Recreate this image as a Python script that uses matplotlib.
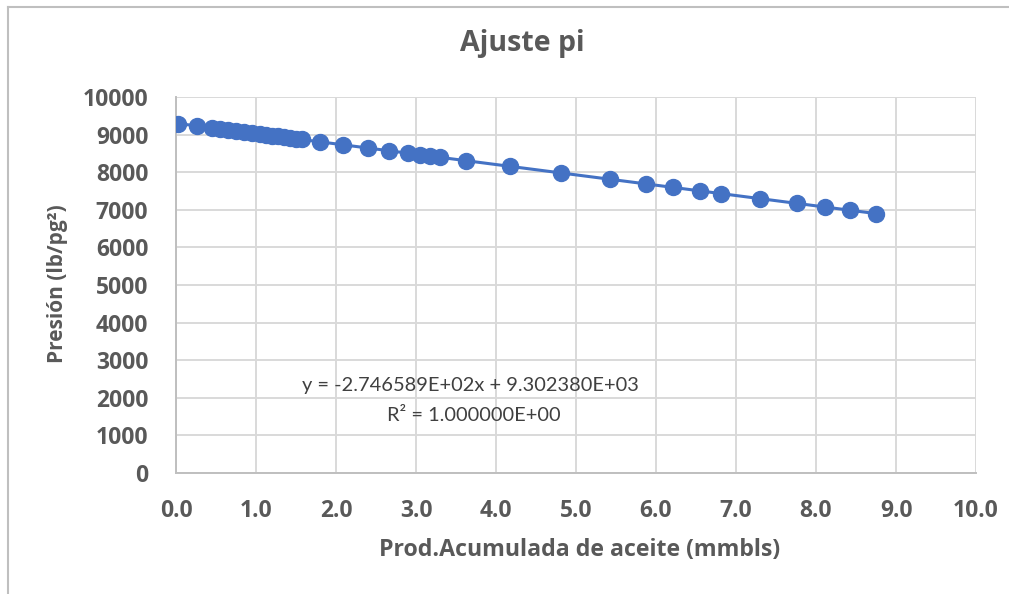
import numpy as np
import matplotlib.pyplot as plt
from matplotlib.lines import Line2D

# Datos: producción acumulada (mmbls) vs presión (lb/pg2)
prod_acum = [0.03, 0.26, 0.45, 0.55, 0.65, 0.75, 0.85, 0.95, 1.05, 1.12,
             1.20, 1.28, 1.35, 1.42, 1.50, 1.57, 1.80, 2.09, 2.40, 2.66,
             2.90, 3.05, 3.17, 3.30, 3.63, 4.17, 4.81, 5.42, 5.88, 6.21,
             6.55, 6.81, 7.30, 7.76, 8.11, 8.42, 8.75]
presion = [9294, 9231, 9179, 9151, 9124, 9096, 9069, 9041, 9014, 8995,
           8973, 8951, 8932, 8912, 8890, 8871, 8808, 8728, 8643, 8572,
           8506, 8465, 8432, 8396, 8305, 8157, 7981, 7814, 7687, 7597,
           7503, 7432, 7297, 7171, 7075, 6990, 6899]

eq_text = "y = -2.746589E+02x + 9.302380E+03"
r2_text = "R² = 1.000000E+00"

x_ticks = np.arange(0, 10.01, 1.0)
y_ticks = np.arange(0, 10001, 1000)

azul = "#4472C4"
gris_txt = "#595959"
gris_grid = "#d9d9d9"
negrita = ["Open Sans", "DejaVu Sans"]

plt.rcParams["font.family"] = ["Lato", "DejaVu Sans"]

fig = plt.figure(figsize=(10.09, 5.94), dpi=100)
ax = fig.add_axes([0.1744, 0.2037, 0.7929, 0.6330])

# línea de tendencia (ajuste lineal) + puntos
m, b = np.polyfit(prod_acum, presion, 1)
xs = np.array([prod_acum[0], prod_acum[-1]])
ax.plot(xs, m * xs + b, color=azul, linewidth=2.2, zorder=3)
ax.plot(prod_acum, presion, "o", color=azul, markersize=11.5, zorder=4)

ax.set_xlim(0, 10)
ax.set_ylim(0, 10000)
ax.set_xticks(x_ticks)
ax.set_yticks(y_ticks)
ax.set_xticklabels([f"{v:.1f}" for v in x_ticks])
ax.set_yticklabels([f"{int(v)}" for v in y_ticks])
ax.tick_params(length=0, colors=gris_txt)
ax.tick_params(axis="x", pad=19)
ax.tick_params(axis="y", pad=20)
for lbl in ax.get_xticklabels() + ax.get_yticklabels():
    lbl.set_fontweight("bold")
    lbl.set_family(negrita)
    lbl.set_fontsize(16.5)

ax.grid(True, color=gris_grid, linewidth=1.4)
ax.set_axisbelow(True)
for s in ["top", "right"]:
    ax.spines[s].set_visible(False)
ax.spines["left"].set_color("#bfbfbf")
ax.spines["bottom"].set_color("#bfbfbf")
ax.spines["left"].set_linewidth(1.4)
ax.spines["bottom"].set_linewidth(1.4)

ax.text(0.3675, 0.234, eq_text, transform=ax.transAxes, ha="center",
        va="center", fontsize=14.4, color="#404040")
ax.text(0.3725, 0.152, r2_text, transform=ax.transAxes, ha="center",
        va="center", fontsize=14.4, color="#404040")

fig.text(0.5178, 1 - 44 / 594, "Ajuste pi", ha="center", va="center",
         fontsize=20.5, fontweight="bold", color=gris_txt, family=negrita)
fig.text(0.5740, 1 - 550 / 594, "Prod.Acumulada de aceite (mmbls)",
         ha="center", va="center", fontsize=16.7, fontweight="bold",
         color=gris_txt, family=negrita)
fig.text(57 / 1009, 1 - 284 / 594, "Presión (lb/pg²)", rotation=90,
         ha="center", va="center", fontsize=15, fontweight="bold",
         color=gris_txt, family=negrita)

# marco del área del gráfico (recortado a la derecha y abajo)
fig.add_artist(Line2D([8 / 1009, 1], [1 - 7 / 594] * 2, color="#bfbfbf",
                      linewidth=1.5, transform=fig.transFigure))
fig.add_artist(Line2D([8 / 1009] * 2, [0, 1 - 7 / 594], color="#bfbfbf",
                      linewidth=1.5, transform=fig.transFigure))

fig.savefig("out.png", dpi=100)
plt.close()
